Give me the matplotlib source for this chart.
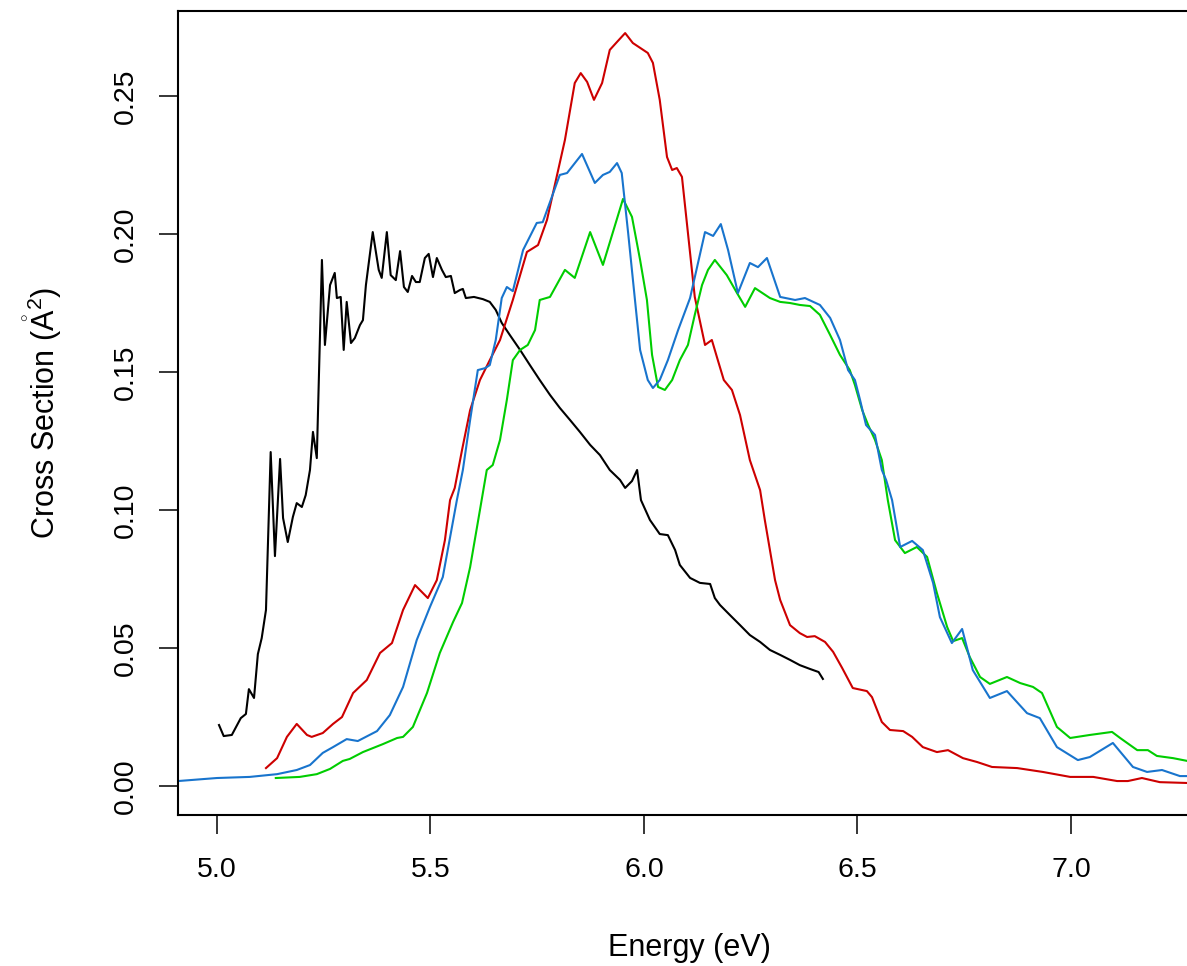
import matplotlib
matplotlib.use("Agg")
import matplotlib.pyplot as plt

plt.rcParams["font.family"] = ["Liberation Sans", "DejaVu Sans"]
plt.rcParams["mathtext.fontset"] = "custom"
plt.rcParams["mathtext.rm"] = "Liberation Sans"
plt.rcParams["mathtext.it"] = "Liberation Sans:italic"

# experimental curve (black)
exp_x = [5.005, 5.016, 5.035, 5.056, 5.068, 5.075, 5.087, 5.096, 5.105, 5.115,
         5.126, 5.136, 5.148, 5.155, 5.166, 5.178, 5.187, 5.199, 5.208, 5.218,
         5.225, 5.234, 5.246, 5.253, 5.265, 5.276, 5.281, 5.290, 5.297, 5.304,
         5.314, 5.323, 5.335, 5.342, 5.349, 5.365, 5.379, 5.386, 5.398, 5.407,
         5.419, 5.429, 5.438, 5.447, 5.457, 5.466, 5.475, 5.487, 5.496, 5.506,
         5.515, 5.527, 5.536, 5.548, 5.557, 5.569, 5.576, 5.583, 5.602, 5.623,
         5.639, 5.653, 5.667, 5.686, 5.710, 5.733, 5.756, 5.780, 5.803, 5.827,
         5.850, 5.874, 5.897, 5.920, 5.944, 5.956, 5.972, 5.984, 5.993, 6.014,
         6.037, 6.056, 6.073, 6.084, 6.108, 6.131, 6.155, 6.166, 6.178, 6.201,
         6.225, 6.248, 6.272, 6.295, 6.319, 6.342, 6.365, 6.389, 6.409, 6.419]
exp_y = [0.0221, 0.0181, 0.0185, 0.0246, 0.0261, 0.0351, 0.0319, 0.0478, 0.0536, 0.0638,
         0.1210, 0.0833, 0.1185, 0.0971, 0.0884, 0.0975, 0.1025, 0.1011, 0.1054, 0.1145,
         0.1283, 0.1188, 0.1906, 0.1598, 0.1815, 0.1859, 0.1768, 0.1772, 0.1580, 0.1754,
         0.1605, 0.1623, 0.1670, 0.1688, 0.1815, 0.2007, 0.1870, 0.1841, 0.2007, 0.1851,
         0.1833, 0.1938, 0.1808, 0.1790, 0.1848, 0.1826, 0.1826, 0.1913, 0.1928, 0.1844,
         0.1913, 0.1870, 0.1844, 0.1848, 0.1786, 0.1797, 0.1801, 0.1768, 0.1772, 0.1764,
         0.1754, 0.1725, 0.1678, 0.1634, 0.1580, 0.1525, 0.1471, 0.1417, 0.1370, 0.1326,
         0.1283, 0.1236, 0.1199, 0.1145, 0.1109, 0.1080, 0.1105, 0.1145, 0.1036, 0.0964,
         0.0913, 0.0909, 0.0855, 0.0801, 0.0754, 0.0736, 0.0732, 0.0681, 0.0656, 0.0620,
         0.0583, 0.0547, 0.0522, 0.0493, 0.0475, 0.0457, 0.0438, 0.0424, 0.0413, 0.0388]

# red curve
red_x = [5.115, 5.141, 5.164, 5.187, 5.211, 5.222, 5.248, 5.272, 5.293, 5.319,
         5.351, 5.382, 5.410, 5.436, 5.464, 5.494, 5.515, 5.534, 5.546, 5.557,
         5.574, 5.593, 5.616, 5.639, 5.663, 5.693, 5.726, 5.752, 5.773, 5.794,
         5.815, 5.838, 5.852, 5.867, 5.883, 5.902, 5.920, 5.937, 5.956, 5.974,
         6.009, 6.021, 6.037, 6.054, 6.066, 6.077, 6.089, 6.103, 6.119, 6.143,
         6.159, 6.173, 6.187, 6.206, 6.225, 6.248, 6.272, 6.283, 6.295, 6.307,
         6.319, 6.342, 6.365, 6.382, 6.400, 6.424, 6.443, 6.464, 6.489, 6.522,
         6.534, 6.557, 6.576, 6.607, 6.628, 6.653, 6.686, 6.712, 6.747, 6.780,
         6.815, 6.874, 6.934, 6.998, 7.052, 7.108, 7.133, 7.166, 7.208, 7.272]
red_y = [0.0065, 0.0101, 0.0178, 0.0225, 0.0185, 0.0178, 0.0192, 0.0225, 0.0250, 0.0337,
         0.0384, 0.0482, 0.0518, 0.0638, 0.0728, 0.0681, 0.0746, 0.0891, 0.1036, 0.1080,
         0.1217, 0.1362, 0.1471, 0.1543, 0.1616, 0.1761, 0.1935, 0.1960, 0.2051, 0.2196,
         0.2341, 0.2547, 0.2583, 0.2551, 0.2486, 0.2547, 0.2667, 0.2696, 0.2728, 0.2692,
         0.2656, 0.2620, 0.2486, 0.2279, 0.2232, 0.2239, 0.2207, 0.2004, 0.1772, 0.1598,
         0.1616, 0.1543, 0.1471, 0.1435, 0.1344, 0.1181, 0.1072, 0.0964, 0.0855, 0.0746,
         0.0674, 0.0583, 0.0554, 0.0540, 0.0543, 0.0522, 0.0486, 0.0428, 0.0355, 0.0344,
         0.0322, 0.0232, 0.0203, 0.0199, 0.0178, 0.0141, 0.0123, 0.0130, 0.0101, 0.0087,
         0.0069, 0.0065, 0.0051, 0.0033, 0.0033, 0.0018, 0.0018, 0.0029, 0.0014, 0.0011]

# blue curve
blue_x = [4.909, 5.000, 5.077, 5.141, 5.187, 5.218, 5.248, 5.272, 5.304, 5.330,
          5.375, 5.405, 5.436, 5.468, 5.499, 5.529, 5.562, 5.576, 5.593, 5.611,
          5.628, 5.639, 5.653, 5.667, 5.679, 5.693, 5.717, 5.749, 5.763, 5.803,
          5.820, 5.855, 5.885, 5.904, 5.920, 5.937, 5.948, 5.963, 5.979, 5.991,
          6.009, 6.021, 6.037, 6.056, 6.080, 6.108, 6.143, 6.162, 6.180, 6.197,
          6.220, 6.248, 6.267, 6.288, 6.319, 6.354, 6.377, 6.412, 6.436, 6.459,
          6.478, 6.494, 6.506, 6.520, 6.541, 6.557, 6.567, 6.581, 6.600, 6.628,
          6.653, 6.677, 6.693, 6.721, 6.745, 6.770, 6.810, 6.850, 6.897, 6.927,
          6.967, 7.016, 7.044, 7.098, 7.145, 7.178, 7.213, 7.255, 7.272]
blue_y = [0.0018, 0.0029, 0.0033, 0.0043, 0.0058, 0.0076, 0.0120, 0.0141, 0.0170, 0.0163,
          0.0199, 0.0257, 0.0359, 0.0529, 0.0649, 0.0757, 0.1036, 0.1145, 0.1326, 0.1507,
          0.1514, 0.1525, 0.1616, 0.1768, 0.1808, 0.1793, 0.1942, 0.2040, 0.2043, 0.2214,
          0.2221, 0.2290, 0.2185, 0.2214, 0.2225, 0.2257, 0.2221, 0.2004, 0.1761, 0.1580,
          0.1471, 0.1442, 0.1471, 0.1543, 0.1652, 0.1768, 0.2007, 0.1993, 0.2036, 0.1942,
          0.1786, 0.1895, 0.1880, 0.1913, 0.1772, 0.1761, 0.1768, 0.1743, 0.1696, 0.1616,
          0.1507, 0.1471, 0.1399, 0.1308, 0.1272, 0.1145, 0.1109, 0.1036, 0.0866, 0.0888,
          0.0855, 0.0736, 0.0612, 0.0518, 0.0569, 0.0420, 0.0319, 0.0344, 0.0264, 0.0246,
          0.0141, 0.0094, 0.0105, 0.0156, 0.0069, 0.0051, 0.0058, 0.0036, 0.0036]

# green curve
green_x = [5.138, 5.194, 5.234, 5.265, 5.295, 5.311, 5.342, 5.389, 5.422, 5.436,
           5.459, 5.492, 5.522, 5.553, 5.574, 5.593, 5.616, 5.632, 5.646, 5.663,
           5.679, 5.693, 5.710, 5.728, 5.745, 5.756, 5.780, 5.815, 5.838, 5.874,
           5.904, 5.951, 5.972, 5.991, 6.007, 6.019, 6.033, 6.049, 6.066, 6.084,
           6.103, 6.119, 6.136, 6.150, 6.166, 6.194, 6.218, 6.237, 6.260, 6.295,
           6.319, 6.342, 6.365, 6.389, 6.412, 6.436, 6.459, 6.482, 6.494, 6.511,
           6.525, 6.541, 6.557, 6.571, 6.588, 6.611, 6.639, 6.663, 6.686, 6.710,
           6.724, 6.745, 6.763, 6.787, 6.810, 6.850, 6.881, 6.911, 6.932, 6.967,
           6.998, 7.044, 7.096, 7.115, 7.155, 7.180, 7.201, 7.239, 7.272]
green_y = [0.0029, 0.0033, 0.0043, 0.0062, 0.0091, 0.0098, 0.0123, 0.0152, 0.0174, 0.0178,
           0.0214, 0.0337, 0.0482, 0.0594, 0.0663, 0.0793, 0.1000, 0.1145, 0.1163, 0.1254,
           0.1399, 0.1543, 0.1580, 0.1598, 0.1652, 0.1761, 0.1772, 0.1870, 0.1841, 0.2007,
           0.1888, 0.2127, 0.2062, 0.1906, 0.1761, 0.1562, 0.1446, 0.1435, 0.1471, 0.1543,
           0.1598, 0.1707, 0.1815, 0.1870, 0.1906, 0.1851, 0.1786, 0.1736, 0.1804, 0.1768,
           0.1754, 0.1750, 0.1743, 0.1739, 0.1707, 0.1634, 0.1562, 0.1507, 0.1453, 0.1362,
           0.1308, 0.1254, 0.1181, 0.1036, 0.0891, 0.0844, 0.0866, 0.0830, 0.0699, 0.0576,
           0.0525, 0.0536, 0.0467, 0.0395, 0.0370, 0.0395, 0.0373, 0.0359, 0.0337, 0.0214,
           0.0174, 0.0185, 0.0196, 0.0174, 0.0130, 0.0130, 0.0109, 0.0101, 0.0091]

x_ticks = [5.0, 5.5, 6.0, 6.5, 7.0]
y_ticks = [0.00, 0.05, 0.10, 0.15, 0.20, 0.25]

W, H = 1187, 966
fig = plt.figure(figsize=(W / 100, H / 100), dpi=100)
# plot box runs past the right edge of the picture, as in the reference
ax = fig.add_axes([178 / W, (H - 815) / H, (1200 - 178) / W, (815 - 11) / H])

lw = 1.5
ax.plot(exp_x, exp_y, color="black", lw=lw)
ax.plot(red_x, red_y, color="#CD0000", lw=lw)
ax.plot(green_x, green_y, color="#00CD00", lw=lw)
ax.plot(blue_x, blue_y, color="#1874CD", lw=lw)

ax.set_xlim(4.909, 7.302)
ax.set_ylim(-0.0105, 0.2808)

ax.set_xticks(x_ticks)
ax.set_xticklabels([f"{v:.1f}" for v in x_ticks])
ax.set_yticks(y_ticks)
ax.set_yticklabels([f"{v:.2f}" for v in y_ticks], rotation=90, va="center")

ax.tick_params(direction="out", length=14, width=1.1, labelsize=20.5)
ax.tick_params(axis="x", pad=16)
ax.tick_params(axis="y", pad=14)
for s in ax.spines.values():
    s.set_linewidth(1.5)

ax.set_xlabel("Energy (eV)", fontsize=22, labelpad=36)
ax.set_ylabel(r"Cross Section ($\mathring{\mathrm{A}}^2$)", fontsize=22, labelpad=35)

fig.savefig("out.png", dpi=100)
